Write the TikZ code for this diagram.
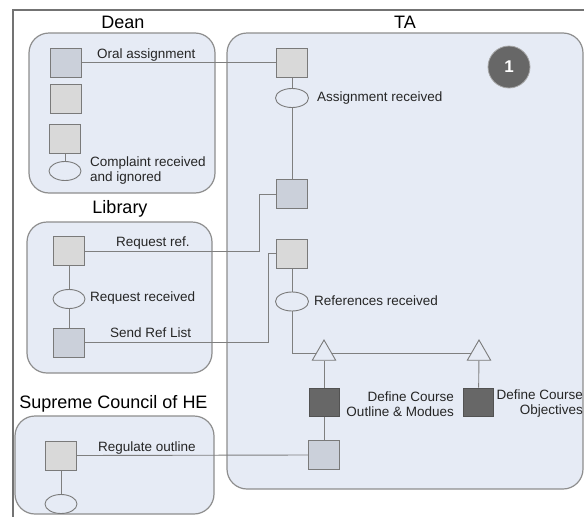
\documentclass[tikz,border=0pt]{standalone}
\usepackage{fontspec}
\setmainfont{Liberation Sans}
\usetikzlibrary{shapes.geometric}
\definecolor{lanefill}{HTML}{E6EBF5}
\definecolor{laneline}{HTML}{8E8E8E}
\definecolor{boxline}{HTML}{7A7A7A}
\definecolor{taskfill}{HTML}{D9D9D9}
\definecolor{msgfill}{HTML}{CBD0DA}
\definecolor{darkfill}{HTML}{676767}
\definecolor{wire}{HTML}{7F7F7F}
\pgfdeclarelayer{lanes}
\pgfdeclarelayer{wires}
\pgfsetlayers{lanes,wires,main}
\tikzset{
  lane/.style={draw=laneline, line width=1.2pt, fill=lanefill, rounded corners=20pt},
  lanetitle/.style={font=\fontsize{18}{20}\selectfont, inner sep=0pt},
  task/.style={draw=boxline, line width=1pt, fill=taskfill, minimum width=31pt, minimum height=29pt, inner sep=0pt},
  msgtask/.style={task, fill=msgfill},
  darktask/.style={task, fill=darkfill, draw=darkfill!80!black, minimum width=30pt, minimum height=28pt},
  evt/.style={draw=boxline, line width=0.9pt, fill=lanefill, ellipse, minimum width=32pt, minimum height=19pt, inner sep=0pt},
  gate/.style={draw=boxline, line width=0.9pt, fill=lanefill, regular polygon, regular polygon sides=3, minimum size=27pt, inner sep=0pt},
  lbl/.style={font=\fontsize{13.5}{15}\selectfont, inner sep=0pt, text=black!85},
  wireline/.style={draw=wire, line width=0.9pt},
}
\begin{document}
\begin{tikzpicture}[x=1pt, y=-1pt]
\useasboundingbox (0,0) rectangle (584,517);

% outer frame (top and left edges)
\draw[draw=black!55, line width=1.4pt] (13,517) -- (13,10) -- (586,10);

% swimlanes
\begin{pgfonlayer}{lanes}
  \path[lane] (29,33) rectangle (215,193);
  \path[lane] (27,222) rectangle (212,373);
  \path[lane] (15,416) rectangle (214,514);
  \path[lane] (227,33) rectangle (583,489);
\end{pgfonlayer}

\node[lanetitle] (tdean) at (123,22) {Dean};
\node[lanetitle] (tta) at (405,22) {TA};
\node[lanetitle] (tlib) at (120,209) {Library};
\node[lanetitle] (tsc) at (113.5,404) {Supreme Council of HE};

% Dean
\node[msgtask] (d1) at (66,62.5) {};
\node[task] (d2) at (66,99) {};
\node[task] (d3) at (65,138.5) {};
\node[evt] (de) at (65,171) {};
\node[lbl, anchor=base west] (ldoral) at (97,58) {Oral assignment};
\node[lbl, anchor=west, align=left] (ldcomp) at (90,170.5) {Complaint received\\and ignored};

% Library
\node[task] (l1) at (69,251) {};
\node[evt] (le) at (69,299) {};
\node[msgtask] (l2) at (69,342.5) {};
\node[lbl, anchor=base west] (llreq) at (116,246) {Request ref.};
\node[lbl, anchor=west] (llrec) at (90,298) {Request received};
\node[lbl, anchor=base west] (llsend) at (110,337) {Send Ref List};

% Supreme Council of HE
\node[task] (s1) at (61,455.5) {};
\node[evt] (se) at (61,504) {};
\node[lbl, anchor=base west] (lsreg) at (98,451) {Regulate outline};

% TA
\node[task] (t1) at (292,62.5) {};
\node[evt, minimum width=33pt] (te1) at (292,98) {};
\node[msgtask] (t2) at (292,194) {};
\node[task] (t3) at (292,253.5) {};
\node[evt, minimum width=33pt] (te2) at (292,301.5) {};
\node[gate] (g1) at (324,353.5) {};
\node[gate] (g2) at (479,353.5) {};
\node[darktask] (k1) at (324,402) {};
\node[darktask] (k2) at (478.5,402) {};
\node[msgtask] (t4) at (324,455) {};
\node[lbl, anchor=west] (lta1) at (317,98) {Assignment received};
\node[lbl, anchor=west] (lta2) at (314,301) {References received};
\node[lbl, anchor=east, align=right] (lk1) at (454,404) {Define Course\\Outline \& Modues};
\node[lbl, anchor=east, align=right] (lk2) at (583,404) {Define Course\\Objectives};
\node[circle, fill=darkfill, draw=black!35, line width=0.8pt, minimum size=42pt, inner sep=0pt,
      text=white, font=\fontsize{17}{17}\selectfont\bfseries] (num) at (509,67) {1};

% bend points of the message flows into the TA lane
\coordinate (reqbend) at (259,0);
\coordinate (sendbend) at (268,0);

% connectors
\begin{pgfonlayer}{wires}
  \draw[wireline] (d1.east) -- (t1.west);
  \draw[wireline] (d3) -- (de);
  \draw[wireline] (l1) -- (le) -- (l2);
  \draw[wireline] (s1) -- (se);
  \draw[wireline] (t1) -- (te1) -- (t2);
  \draw[wireline] (t3) -- (te2);
  \draw[wireline] (te2) |- (g1.center) -- (g2.center);
  \draw[wireline] (g1) -- (k1) -- (t4);
  \draw[wireline] (g2) -- (k2);
  \draw[wireline] (l1.east) -- (l1.east -| reqbend) |- (t2.west);
  \draw[wireline] (l2.east) -- (l2.east -| sendbend) |- (t3.west);
  \draw[wireline] (s1.east) -- (t4.west);
\end{pgfonlayer}
\end{tikzpicture}
\end{document}
